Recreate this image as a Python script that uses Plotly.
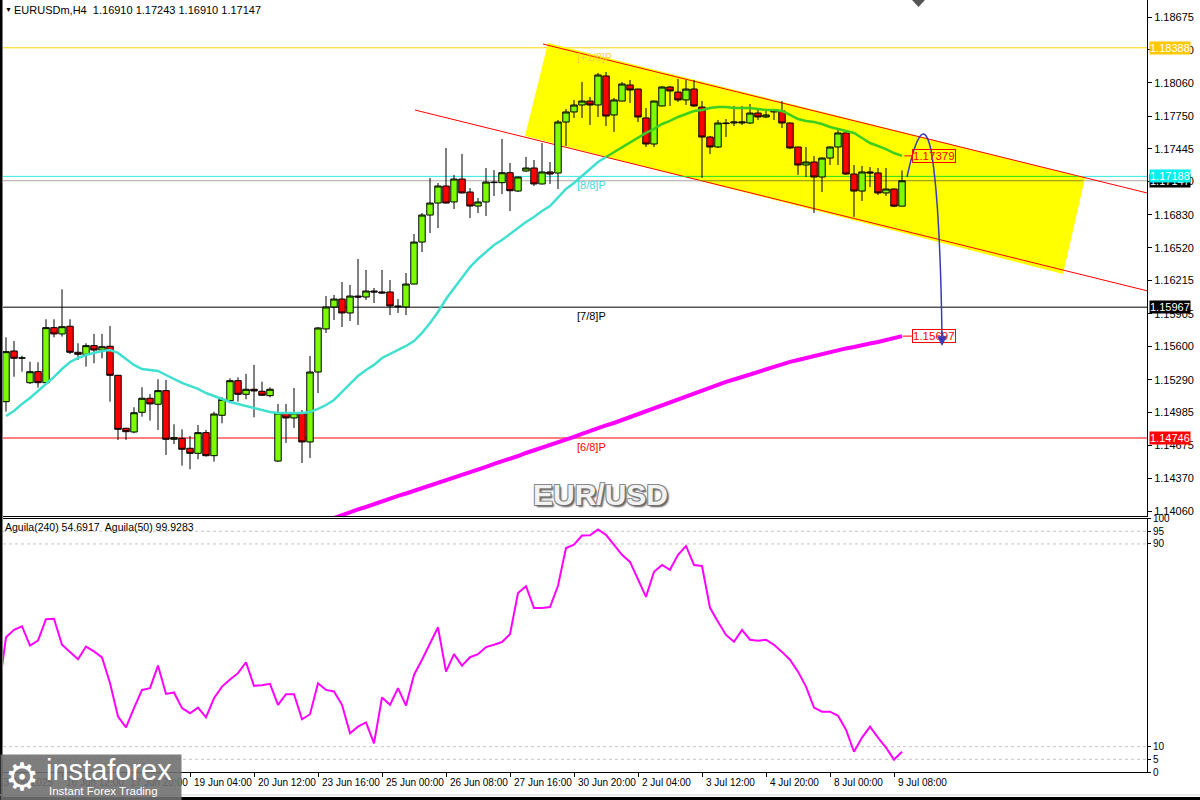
import plotly.graph_objects as go

# ---------------- data ----------------
bars = list(range(113))

opens = [1.15085, 1.15558, 1.15494, 1.15262, 1.15365, 1.15262, 1.15776, 1.15717, 1.15789, 1.15546,
         1.15527, 1.15608, 1.15567, 1.15602, 1.15331, 1.14837, 1.14802, 1.14986, 1.15117, 1.15061,
         1.15188, 1.14734, 1.14743, 1.14650, 1.14603, 1.14796, 1.14581, 1.14958, 1.15094, 1.15281,
         1.15154, 1.15201, 1.15182, 1.15141, 1.14531, 1.14980, 1.14933, 1.14980, 1.14709, 1.15362,
         1.15764, 1.15969, 1.16043, 1.15913, 1.16071, 1.16062, 1.16118, 1.16109, 1.16109, 1.15978,
         1.15969, 1.16183, 1.16575, 1.16827, 1.16939, 1.17098, 1.16949, 1.17163, 1.17042, 1.16911,
         1.16949, 1.17135, 1.17129, 1.17222, 1.17051, 1.17238, 1.17266, 1.17117, 1.17229, 1.17219,
         1.17695, 1.17789, 1.17854, 1.17891, 1.17854, 1.18125, 1.17761, 1.17891, 1.18041, 1.18003,
         1.17733, 1.17490, 1.17845, 1.18022, 1.17975, 1.17901, 1.18003, 1.17835, 1.17555, 1.17462,
         1.17686, 1.17686, 1.17686, 1.17686, 1.17779, 1.17742, 1.17808, 1.17798, 1.17686, 1.17462,
         1.17294, 1.17322, 1.17182, 1.17359, 1.17462, 1.17593, 1.17210, 1.17051, 1.17229, 1.17220,
         1.17033, 1.17070, 1.16910]
highs = [1.15686, 1.15651, 1.15514, 1.15458, 1.15453, 1.15854, 1.15854, 1.16134, 1.15854, 1.15630,
         1.15630, 1.15717, 1.15717, 1.15791, 1.15335, 1.14840, 1.15033, 1.15219, 1.15157, 1.15294,
         1.15288, 1.14874, 1.14827, 1.14765, 1.14868, 1.14821, 1.14992, 1.15126, 1.15303, 1.15313,
         1.15344, 1.15428, 1.15272, 1.15219, 1.15064, 1.15064, 1.15213, 1.15007, 1.15512, 1.15782,
         1.16071, 1.16081, 1.16202, 1.16174, 1.16417, 1.16314, 1.16146, 1.16314, 1.16221, 1.16043,
         1.16286, 1.16650, 1.16846, 1.17173, 1.17126, 1.17453, 1.17201, 1.17397, 1.17079, 1.16986,
         1.17266, 1.17247, 1.17537, 1.17313, 1.17185, 1.17369, 1.17341, 1.17499, 1.17322, 1.17714,
         1.17817, 1.17901, 1.18069, 1.17929, 1.18153, 1.18162, 1.17919, 1.18069, 1.18087, 1.18006,
         1.17826, 1.17895, 1.18031, 1.18031, 1.18097, 1.18087, 1.18087, 1.17891, 1.17565, 1.17714,
         1.17723, 1.17845, 1.17845, 1.17863, 1.17817, 1.17808, 1.17817, 1.17891, 1.17690, 1.17465,
         1.17462, 1.17378, 1.17365, 1.17468, 1.17639, 1.17597, 1.17294, 1.17285, 1.17275, 1.17266,
         1.17266, 1.17073, 1.17243]
lows = [1.14992, 1.15318, 1.15365, 1.15250, 1.15216, 1.15257, 1.15686, 1.15692, 1.15530, 1.15474,
        1.15412, 1.15443, 1.15490, 1.15085, 1.14728, 1.14728, 1.14790, 1.14945, 1.14908, 1.14821,
        1.14588, 1.14690, 1.14488, 1.14454, 1.14547, 1.14572, 1.14525, 1.14883, 1.15076, 1.15085,
        1.15107, 1.14939, 1.15138, 1.15126, 1.14522, 1.14700, 1.14840, 1.14513, 1.14560, 1.15166,
        1.15726, 1.15847, 1.15782, 1.15838, 1.15801, 1.16034, 1.16006, 1.16095, 1.15894, 1.15913,
        1.15894, 1.16180, 1.16482, 1.16659, 1.16706, 1.16935, 1.16883, 1.17030, 1.16799, 1.16846,
        1.16818, 1.17005, 1.17023, 1.16865, 1.17042, 1.17230, 1.17098, 1.17112, 1.17117, 1.17070,
        1.17471, 1.17733, 1.17733, 1.17667, 1.17742, 1.17658, 1.17602, 1.17889, 1.17873, 1.17695,
        1.17462, 1.17462, 1.17840, 1.17845, 1.17882, 1.17854, 1.17835, 1.17173, 1.17397, 1.17453,
        1.17555, 1.17658, 1.17667, 1.17677, 1.17714, 1.17733, 1.17714, 1.17639, 1.17443, 1.17201,
        1.17182, 1.16846, 1.17042, 1.17294, 1.17294, 1.17201, 1.16809, 1.16958, 1.17089, 1.17014,
        1.17005, 1.16901, 1.16910]
closes = [1.15552, 1.15490, 1.15492, 1.15365, 1.15262, 1.15776, 1.15717, 1.15785, 1.15546, 1.15527,
          1.15608, 1.15567, 1.15598, 1.15331, 1.14827, 1.14805, 1.14982, 1.15117, 1.15064, 1.15188,
          1.14734, 1.14749, 1.14641, 1.14603, 1.14796, 1.14581, 1.14970, 1.15107, 1.15281, 1.15154,
          1.15201, 1.15185, 1.15145, 1.15201, 1.14980, 1.14933, 1.14980, 1.14709, 1.15362, 1.15773,
          1.15969, 1.16043, 1.15913, 1.16071, 1.16062, 1.16118, 1.16109, 1.16100, 1.15978, 1.15972,
          1.16183, 1.16575, 1.16827, 1.16939, 1.17098, 1.16939, 1.17163, 1.17033, 1.16911, 1.16949,
          1.17135, 1.17130, 1.17222, 1.17054, 1.17182, 1.17266, 1.17117, 1.17229, 1.17210, 1.17695,
          1.17789, 1.17854, 1.17891, 1.17854, 1.18134, 1.17751, 1.17901, 1.18050, 1.17994, 1.17742,
          1.17490, 1.17891, 1.18022, 1.17985, 1.17901, 1.18003, 1.17845, 1.17555, 1.17462, 1.17686,
          1.17681, 1.17695, 1.17695, 1.17779, 1.17742, 1.17761, 1.17789, 1.17686, 1.17453, 1.17294,
          1.17322, 1.17182, 1.17359, 1.17462, 1.17593, 1.17210, 1.17051, 1.17229, 1.17220, 1.17033,
          1.17070, 1.16910, 1.17147]

ma_fast = [1.14951, 1.14998, 1.15064, 1.15120, 1.15185, 1.15250, 1.15316, 1.15390, 1.15455, 1.15493,
           1.15521, 1.15540, 1.15558, 1.15567, 1.15540, 1.15484, 1.15428, 1.15390, 1.15381, 1.15372,
           1.15334, 1.15297, 1.15260, 1.15232, 1.15204, 1.15166, 1.15138, 1.15110, 1.15082, 1.15064,
           1.15045, 1.15026, 1.15008, 1.14989, 1.14980, 1.14980, 1.14980, 1.14980, 1.14989, 1.15017,
           1.15054, 1.15101, 1.15176, 1.15250, 1.15325, 1.15381, 1.15428, 1.15493, 1.15530, 1.15567,
           1.15605, 1.15651, 1.15726, 1.15819, 1.15922, 1.16043, 1.16146, 1.16249, 1.16342, 1.16417,
           1.16482, 1.16547, 1.16594, 1.16650, 1.16706, 1.16762, 1.16809, 1.16865, 1.16911, 1.16986,
           1.17070, 1.17126, 1.17191, 1.17257, 1.17322, 1.17369, 1.17415, 1.17462, 1.17509, 1.17555,
           1.17593, 1.17630, 1.17677, 1.17705, 1.17742, 1.17770, 1.17798, 1.17807, 1.17826, 1.17835,
           1.17835, 1.17826, 1.17826, 1.17826, 1.17817, 1.17807, 1.17807, 1.17798, 1.17761, 1.17723,
           1.17705, 1.17695, 1.17677, 1.17649, 1.17630, 1.17611, 1.17593, 1.17546, 1.17499, 1.17471,
           1.17443, 1.17406, 1.17379]

ma_slow_first_bar = 40
ma_slow = [1.13972, 1.14000, 1.14028, 1.14056, 1.14079, 1.14102, 1.14130, 1.14154, 1.14177, 1.14205,
           1.14228, 1.14252, 1.14280, 1.14303, 1.14326, 1.14354, 1.14378, 1.14401, 1.14429, 1.14452,
           1.14476, 1.14504, 1.14527, 1.14550, 1.14578, 1.14606, 1.14630, 1.14653, 1.14681, 1.14709,
           1.14732, 1.14756, 1.14784, 1.14812, 1.14840, 1.14863, 1.14886, 1.14914, 1.14942, 1.14970,
           1.14998, 1.15026, 1.15054, 1.15082, 1.15110, 1.15138, 1.15166, 1.15194, 1.15218, 1.15241,
           1.15269, 1.15292, 1.15316, 1.15344, 1.15367, 1.15390, 1.15414, 1.15437, 1.15456, 1.15474,
           1.15493, 1.15512, 1.15530, 1.15549, 1.15567, 1.15582, 1.15595, 1.15614, 1.15628, 1.15642,
           1.15661, 1.15679, 1.15697]

aguila_bars = list(range(-1, 113))
aguila = [30.0, 53.2, 56.1, 57.5, 49.9, 51.9, 60.3, 60.5, 50.2, 47.2,
          44.5, 49.5, 47.6, 45.2, 35.1, 21.9, 17.6, 25.2, 32.4, 33.1,
          42.0, 30.8, 31.4, 25.2, 23.2, 25.4, 21.6, 29.1, 33.7, 36.5,
          39.0, 43.3, 34.0, 34.2, 34.8, 26.5, 30.7, 30.7, 20.8, 22.8,
          35.0, 32.4, 31.8, 26.5, 15.3, 17.9, 19.6, 11.3, 29.4, 26.5,
          33.1, 26.2, 38.3, 44.3, 50.9, 57.1, 39.6, 46.5, 42.0, 45.3,
          46.5, 49.3, 50.2, 51.3, 54.4, 70.6, 73.3, 64.7, 64.7, 65.1,
          73.5, 88.4, 89.7, 93.3, 93.4, 95.7, 93.6, 89.6, 85.7, 82.9,
          75.8, 69.1, 79.0, 81.7, 79.8, 85.7, 89.2, 81.7, 81.3, 64.8,
          59.3, 54.1, 51.4, 56.1, 52.2, 51.8, 52.2, 50.2, 47.4, 44.3,
          39.6, 33.7, 25.4, 23.8, 23.8, 22.2, 16.7, 8.0, 13.6, 17.9,
          13.6, 9.6, 4.9, 8.0]

tick_bars = [7, 15, 23, 31, 39, 47, 55, 63, 71, 79, 87, 95, 103, 111]
tick_labels = ["16 Jun 12:00", "17 Jun 20:00", "19 Jun 04:00", "20 Jun 12:00", "23 Jun 16:00",
               "25 Jun 00:00", "26 Jun 08:00", "27 Jun 16:00", "30 Jun 20:00", "2 Jul 04:00",
               "3 Jul 12:00", "4 Jul 20:00", "8 Jul 00:00", "9 Jul 08:00"]
first_label = "13 Jun 2025"

price_ticks = [1.18675, 1.18370, 1.18060, 1.17750, 1.17445, 1.17140, 1.16830, 1.16520,
               1.16215, 1.15905, 1.15600, 1.15290, 1.14985, 1.14675, 1.14370, 1.14060]
ind_ticks = [0, 5, 10, 90, 95, 100]
ind_levels = [5, 10, 90, 95]

# horizontal levels: price, line colour, box colour
level_prices = [1.18388, 1.17147, 1.17188, 1.15967, 1.14746]
level_line_colors = ["#ffd700", "#a8a8a8", "#2ee6e6", "#000000", "#ff0000"]
level_box_colors = ["#ffc800", "#000000", "#00f0f0", "#000000", "#ff0000"]
murrey_names = ["[+1/8]P", "[8/8]P", "[7/8]P", "[6/8]P"]
murrey_prices = [1.18388, 1.17188, 1.15967, 1.14746]
murrey_colors = ["#f5cf40", "#40d8d8", "#000000", "#ff0000"]
murrey_bar = 71.1

# drawn objects (bar index, price)
channel_bars = [67.75, 134.875, 132.125, 64.875]
channel_prices = [1.18433, 1.17173, 1.16277, 1.17565]
upper_line = [(67.125, 1.18423), (142.625, 1.17033)]
lower_line = [(51.125, 1.17807), (142.625, 1.16120)]
arrow_pts = [(112.625, 1.17182), (114.5, 1.17826), (115.625, 1.17434), (116.75, 1.16967), (117.0, 1.15698)]
arrow_head = (117.0, 1.15605)
ma_fast_label = 1.17379
ma_slow_label = 1.15697

# ---------------- geometry helpers ----------------
W, H = 1200, 800
ML, MR, MT, MB = 3, 53, 0, 28
PW, PH = W - ML - MR, H - MT - MB   # 1144 x 772
XR = [-0.375, 142.625]
YR = [1.14018, 1.18834]


def pxx(px):
    return (px - ML) / PW


def pxy(py):
    return (PH - py) / PH


FONT = "Liberation Sans, Arial, sans-serif"

fig = go.Figure()

fig.add_trace(go.Candlestick(
    x=bars, open=opens, high=highs, low=lows, close=closes,
    xaxis="x", yaxis="y", whiskerwidth=0,
    increasing=dict(line=dict(color="black", width=1), fillcolor="#7cfc00"),
    decreasing=dict(line=dict(color="black", width=1), fillcolor="#ff0000"),
    hoverinfo="skip", showlegend=False))

split = 75
fig.add_trace(go.Scatter(x=bars[:split + 1], y=ma_fast[:split + 1], mode="lines",
                         line=dict(color="#40e0d0", width=2.5), hoverinfo="skip"))
fig.add_trace(go.Scatter(x=bars[split:], y=ma_fast[split:], mode="lines",
                         line=dict(color="#3ccf1e", width=2.5), hoverinfo="skip"))
fig.add_trace(go.Scatter(x=bars[ma_slow_first_bar:], y=ma_slow, mode="lines",
                         line=dict(color="#ff00ff", width=4), hoverinfo="skip"))
fig.add_trace(go.Scatter(x=aguila_bars, y=aguila, mode="lines", xaxis="x2", yaxis="y2",
                         line=dict(color="#ff00ff", width=2), hoverinfo="skip"))

shapes = []
# yellow channel
path = "M " + " L ".join(f"{b},{p}" for b, p in zip(channel_bars, channel_prices)) + " Z"
shapes.append(dict(type="path", path=path, xref="x", yref="y", fillcolor="#ffff00",
                   line=dict(width=0), layer="below"))
for (x0, y0), (x1, y1) in [upper_line, lower_line]:
    shapes.append(dict(type="line", xref="x", yref="y", x0=x0, y0=y0, x1=x1, y1=y1,
                       line=dict(color="#ff0000", width=1), layer="below"))
# horizontal levels
for p, c in zip(level_prices, level_line_colors):
    shapes.append(dict(type="line", xref="x domain", yref="y", x0=0, x1=1, y0=p, y1=p,
                       line=dict(color=c, width=1), layer="below"))
# blended segments of the cyan / bid lines inside the yellow channel
shapes.append(dict(type="line", xref="x", yref="y", x0=84.4, x1=134.0, y0=1.17188, y1=1.17188,
                   line=dict(color="#22dd22", width=1), layer="below"))
shapes.append(dict(type="line", xref="x", yref="y", x0=86.75, x1=134.7, y0=1.17147, y1=1.17147,
                   line=dict(color="#8a8a20", width=1), layer="below"))
# indicator dashed levels
for v in ind_levels:
    shapes.append(dict(type="line", xref="x2 domain", yref="y2", x0=0, x1=1, y0=v, y1=v,
                       line=dict(color="#c4c4c4", width=1, dash="3px,3px"), layer="below"))
# label connectors
shapes.append(dict(type="line", xref="x", yref="y", x0=bars[-1] + 0.3, x1=113.25,
                   y0=ma_fast_label, y1=ma_fast_label, line=dict(color="#ff0000", width=1)))
shapes.append(dict(type="line", xref="x", yref="y", x0=bars[-1] + 0.1, x1=113.25,
                   y0=ma_slow_label, y1=ma_slow_label, line=dict(color="#ff0000", width=1)))
# blue forecast arrow
a = arrow_pts
apath = (f"M {a[0][0]},{a[0][1]} Q {a[1][0]},{a[1][1]} {a[2][0]},{a[2][1]} "
         f"Q {a[3][0]},{a[3][1]} {a[4][0]},{a[4][1]}")
shapes.append(dict(type="path", path=apath, xref="x", yref="y",
                   line=dict(color="#3a3ab8", width=1.5)))
# window frame pieces
shapes.append(dict(type="rect", xref="paper", yref="paper", x0=pxx(0), x1=pxx(2.5),
                   y0=pxy(800), y1=1, fillcolor="black", line=dict(width=0)))
shapes.append(dict(type="line", xref="paper", yref="paper", x0=pxx(0), x1=pxx(1200),
                   y0=pxy(795), y1=pxy(795), line=dict(color="#d8d8d8", width=1)))
shapes.append(dict(type="rect", xref="paper", yref="paper", x0=pxx(0), x1=pxx(1200),
                   y0=pxy(800), y1=pxy(797), fillcolor="black", line=dict(width=0)))
shapes.append(dict(type="path", xref="paper", yref="paper",
                   path=f"M {pxx(912)},{pxy(0)} L {pxx(925)},{pxy(0)} L {pxx(918.5)},{pxy(7)} Z",
                   fillcolor="#555555", line=dict(width=0)))

ann = []
# title lines
ann.append(dict(xref="paper", yref="paper", x=pxx(3), y=pxy(4), xanchor="left", yanchor="top",
                text="▼", showarrow=False, font=dict(family=FONT, size=7, color="black")))
ann.append(dict(xref="paper", yref="paper", x=pxx(12), y=pxy(2), xanchor="left", yanchor="top",
                text="EURUSDm,H4  1.16910 1.17243 1.16910 1.17147", showarrow=False,
                font=dict(family=FONT, size=11, color="black")))
ann.append(dict(xref="paper", yref="paper", x=pxx(3), y=pxy(519), xanchor="left", yanchor="top",
                text="Aguila(240) 54.6917  Aguila(50) 99.9283", showarrow=False,
                font=dict(family=FONT, size=10.5, color="black")))
# murrey labels
for n, p, c in zip(murrey_names, murrey_prices, murrey_colors):
    ann.append(dict(xref="x", yref="y", x=murrey_bar, y=p, xanchor="left", yanchor="top",
                    yshift=-1, text=n, showarrow=False, font=dict(family=FONT, size=11, color=c)))
# value boxes on chart
for v in [ma_fast_label, ma_slow_label]:
    ann.append(dict(xref="x", yref="y", x=113.25, y=v, xanchor="left", yanchor="middle",
                    text=f"{v:.5f}", showarrow=False, bordercolor="#ff0000", borderwidth=1,
                    borderpad=0, font=dict(family=FONT, size=11.5, color="#ff0000")))
# arrow head
ann.append(dict(xref="x", yref="y", x=arrow_head[0], y=arrow_head[1], ax=0, ay=-16,
                showarrow=True, arrowhead=2, arrowsize=1.3, arrowwidth=1.5, arrowcolor="#3a3ab8", text=""))
# right axis level boxes
for p, c in zip(level_prices, level_box_colors):
    ann.append(dict(xref="paper", yref="y", x=1, y=p, xanchor="left", yanchor="middle", xshift=2,
                    text=f"{p:.5f}", showarrow=False, bgcolor=c, borderpad=0,
                    font=dict(family=FONT, size=11, color="white")))
# watermark
ann.append(dict(xref="paper", yref="paper", x=pxx(600), y=pxy(494), xanchor="center", yanchor="middle",
                text="<b>EUR/USD</b>", showarrow=False,
                font=dict(family=FONT, size=30, color="#f2f2f2",
                          shadow="1px 1px 0 #6e6e6e, -1px -1px 0 #8a8a8a, 1px -1px 0 #8a8a8a, -1px 1px 0 #8a8a8a, 2px 2px 2px #555")))
# x labels (left aligned right of ticks, as in the terminal)
ann.append(dict(xref="paper", yref="paper", x=pxx(-4), y=0, xanchor="left", yanchor="top", yshift=-3,
                text=first_label, showarrow=False, font=dict(family=FONT, size=10, color="black")))
for b, t in zip(tick_bars, tick_labels):
    ann.append(dict(xref="x2", yref="paper", x=b + 0.2, y=0, xanchor="left", yanchor="top", yshift=-3,
                    text=t, showarrow=False, font=dict(family=FONT, size=10, color="black")))
# logo
ann.append(dict(xref="paper", yref="paper", x=pxx(0), y=pxy(754), xanchor="left", yanchor="top",
                text=" ", width=180, height=46, bgcolor="rgba(112,112,112,0.9)", borderpad=0,
                showarrow=False))
ann.append(dict(xref="paper", yref="paper", x=pxx(3), y=pxy(777), xanchor="left", yanchor="middle",
                text="⚙", showarrow=False, font=dict(family="DejaVu Sans", size=38, color="white")))
ann.append(dict(xref="paper", yref="paper", x=pxx(44), y=pxy(770), xanchor="left", yanchor="middle",
                text="instaforex", showarrow=False, font=dict(family=FONT, size=29, color="white")))
ann.append(dict(xref="paper", yref="paper", x=pxx(47), y=pxy(791), xanchor="left", yanchor="middle",
                text="Instant Forex Trading", showarrow=False, font=dict(family=FONT, size=11.5, color="white")))

tickfont = dict(family=FONT, size=11, color="black")
fig.update_layout(
    width=W, height=H, margin=dict(l=ML, r=MR, t=MT, b=MB, autoexpand=False),
    paper_bgcolor="white", plot_bgcolor="white", showlegend=False, hovermode=False,
    boxgap=0.15, boxgroupgap=0.05,
    xaxis=dict(domain=[0, 1], range=XR, anchor="y", showticklabels=False, ticks="",
               showgrid=False, zeroline=False, showline=True, linecolor="black", linewidth=1,
               rangeslider=dict(visible=False)),
    yaxis=dict(domain=[(PH - 516) / PH, 1], range=YR, side="right", anchor="x",
               tickvals=price_ticks, ticktext=[f"{v:.5f}" for v in price_ticks],
               ticks="outside", ticklen=4, tickcolor="black", showline=True, linecolor="black",
               showgrid=False, zeroline=False, tickfont=tickfont),
    xaxis2=dict(domain=[0, 1], range=XR, anchor="y2", tickvals=tick_bars, ticks="outside", ticklen=4,
                tickcolor="black", showticklabels=False, showline=True, mirror=True,
                linecolor="black", showgrid=False, zeroline=False),
    yaxis2=dict(domain=[0, (PH - 518.6) / PH], range=[0, 100], side="right", anchor="x2",
                tickvals=ind_ticks, ticks="outside", ticklen=3, tickcolor="black", showline=True,
                linecolor="black", showgrid=False, zeroline=False,
                tickfont=dict(family=FONT, size=10, color="black")),
    shapes=shapes, annotations=ann,
)

fig.write_html("out.html", config={"displayModeBar": False},
               post_script="document.body.style.margin='0';document.body.style.overflow='hidden';")
